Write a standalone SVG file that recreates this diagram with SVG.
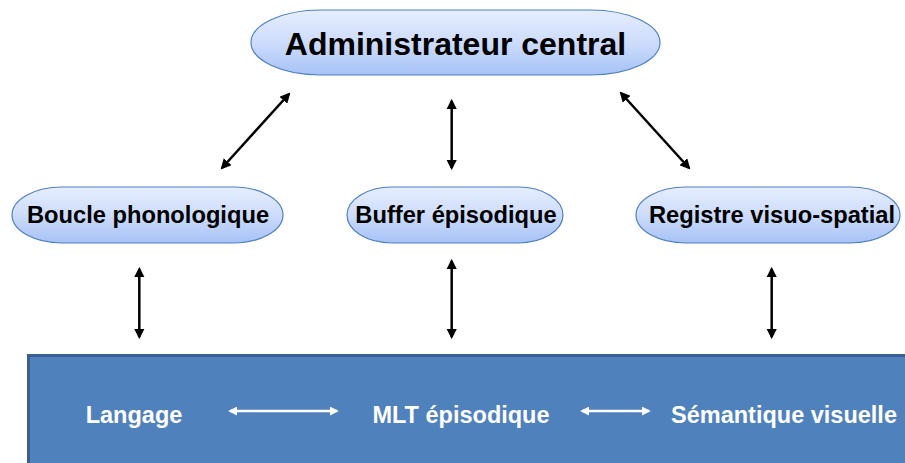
<svg xmlns="http://www.w3.org/2000/svg" width="905" height="463" viewBox="0 0 905 463">
  <style>
    .node { stroke: #4d7fc4; stroke-width: 1.2; fill: url(#pill); }
    .lbl { font-family: "Liberation Sans", Arial, sans-serif; font-weight: bold; fill: #000; text-anchor: middle; }
    .wlbl { font-family: "Liberation Sans", Arial, sans-serif; font-weight: bold; fill: #fff; text-anchor: middle; font-size: 23.5px; }
    .blk { stroke: #000; stroke-width: 2.5; fill: none; marker-start: url(#headB); marker-end: url(#headB); }
    .wht { stroke: #fff; stroke-width: 2.5; fill: none; marker-start: url(#headW); marker-end: url(#headW); }
  </style>
  <defs>
    <linearGradient id="pill" x1="0" y1="0" x2="0" y2="1">
      <stop offset="0" stop-color="#e6eeff"/>
      <stop offset="0.5" stop-color="#cddcfb"/>
      <stop offset="1" stop-color="#a6c2f6"/>
    </linearGradient>
    <marker id="headB" viewBox="0 0 10 10" refX="8" refY="5" markerWidth="4.2" markerHeight="4.2" orient="auto-start-reverse" markerUnits="strokeWidth">
      <path d="M0,0 L10,5 L0,10 z" fill="#000"/>
    </marker>
    <marker id="headW" viewBox="0 0 10 10" refX="8" refY="5" markerWidth="3.6" markerHeight="3.6" orient="auto-start-reverse" markerUnits="strokeWidth">
      <path d="M0,0 L10,5 L0,10 z" fill="#fff"/>
    </marker>
  </defs>

  <rect width="905" height="463" fill="#fff"/>

  <!-- long-term memory band -->
  <g id="mlt">
    <rect x="28.5" y="355.5" width="880" height="110" fill="#4f81bd" stroke="#3b5f8e" stroke-width="3"/>
    <text class="wlbl" x="134" y="423">Langage</text>
    <text class="wlbl" x="461" y="423">MLT épisodique</text>
    <text class="wlbl" x="784" y="423">Sémantique visuelle</text>
  </g>

  <g id="admin">
    <rect class="node" x="251" y="10" width="409" height="65" rx="70" ry="32.5"/>
    <text class="lbl" x="455.5" y="55" font-size="32">Administrateur central</text>
  </g>
  <g id="boucle">
    <rect class="node" x="12" y="187" width="271" height="56" rx="50" ry="28"/>
    <text class="lbl" x="148" y="223" font-size="23.7">Boucle phonologique</text>
  </g>
  <g id="buffer">
    <rect class="node" x="347" y="187" width="216" height="56" rx="45" ry="28"/>
    <text class="lbl" x="456" y="223" font-size="23.7">Buffer épisodique</text>
  </g>
  <g id="registre">
    <rect class="node" x="636" y="187" width="264" height="56" rx="50" ry="28"/>
    <text class="lbl" x="772" y="223" font-size="23.7">Registre visuo-spatial</text>
  </g>

  <g id="connectors">
    <line class="blk" x1="222" y1="168" x2="289" y2="94"/>
    <line class="blk" x1="451.7" y1="101" x2="451.7" y2="168"/>
    <line class="blk" x1="621" y1="93" x2="689" y2="168"/>
    <line class="blk" x1="139.3" y1="269" x2="139.3" y2="337"/>
    <line class="blk" x1="451.7" y1="261" x2="451.7" y2="337"/>
    <line class="blk" x1="771.7" y1="269" x2="771.7" y2="337"/>
    <line class="wht" x1="230" y1="411" x2="337" y2="411"/>
    <line class="wht" x1="582" y1="411" x2="649" y2="411"/>
  </g>
</svg>
